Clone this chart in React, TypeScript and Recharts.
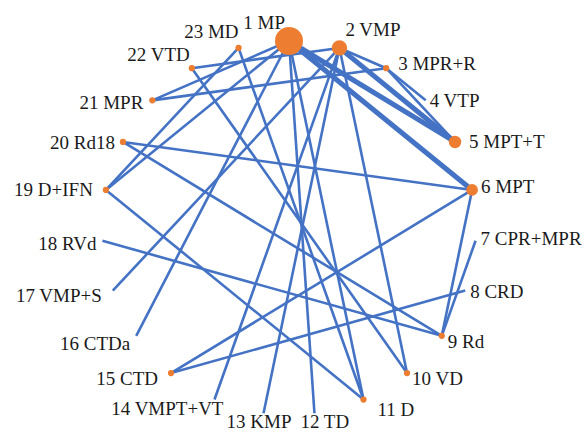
import React from 'react';
import { ScatterChart, Scatter, XAxis, YAxis, ZAxis } from 'recharts';

// Treatments (network nodes), in circular order starting at the top
const treatments = [
  '1 MP', '2 VMP', '3 MPR+R', '4 VTP', '5 MPT+T', '6 MPT', '7 CPR+MPR', '8 CRD',
  '9 Rd', '10 VD', '11 D', '12 TD', '13 KMP', '14 VMPT+VT', '15 CTD', '16 CTDa',
  '17 VMP+S', '18 RVd', '19 D+IFN', '20 Rd18', '21 MPR', '22 VTD', '23 MD',
];
// Relative node weight (dot area)
const nodeWeight = [20, 6, 1, 0, 4, 3.5, 0, 0, 1, 1, 1, 0, 0, 0, 1, 0, 0, 0, 1, 1, 1, 1, 1];

// Direct comparisons (1-based treatment numbers)
const thinEdges: [number, number][] = [
  [1, 21], [1, 19], [1, 16], [1, 12], [1, 11],
  [2, 3], [3, 4], [3, 5], [2, 17], [2, 14], [2, 13], [2, 10], [2, 22],
  [21, 3], [19, 23], [19, 11], [20, 6], [20, 9], [18, 9],
  [15, 6], [15, 8], [6, 9], [7, 9], [22, 10], [23, 11],
];
const thickEdges: [number, number][] = [[1, 5], [1, 6], [2, 5]];

// Label placement (layout only)
const labelPlace: { a: 'start' | 'end' | 'middle'; dx: number; dy: number }[] = [
  { a: 'end', dx: -4, dy: -19 },
  { a: 'start', dx: 6, dy: -18 },
  { a: 'start', dx: 12, dy: -5 },
  { a: 'start', dx: 4, dy: 0 },
  { a: 'start', dx: 14, dy: 0 },
  { a: 'start', dx: 9, dy: -3 },
  { a: 'start', dx: 5, dy: -2 },
  { a: 'start', dx: 5, dy: 1 },
  { a: 'start', dx: 6, dy: 6 },
  { a: 'start', dx: 5, dy: 5 },
  { a: 'start', dx: 14, dy: 10 },
  { a: 'start', dx: -14, dy: 8 },
  { a: 'start', dx: -37, dy: 8 },
  { a: 'end', dx: 9, dy: 9 },
  { a: 'end', dx: -13, dy: 5 },
  { a: 'end', dx: -6, dy: 8 },
  { a: 'end', dx: -11, dy: 5 },
  { a: 'end', dx: -6, dy: 3 },
  { a: 'end', dx: -13, dy: 0 },
  { a: 'end', dx: -8, dy: 1 },
  { a: 'end', dx: -9, dy: 2 },
  { a: 'end', dx: -2, dy: -14 },
  { a: 'end', dx: 0, dy: -16 },
];

const N = treatments.length;
// circular network layout on unit circle
const nodes = treatments.map((name, i) => {
  const t = (i * 2 * Math.PI) / N;
  return { name, idx: i, x: Math.sin(t), y: Math.cos(t), n: nodeWeight[i] };
});

const W = 587;
const H = 432;
const R = 187;
const CX = 289;
const CY = 228;
const xDomain: [number, number] = [-CX / R, (W - CX) / R];
const yDomain: [number, number] = [-(H - CY) / R, CY / R];

const BLUE = '#4472C4';
const ORANGE = '#ED7D31';
const FONT = 'Liberation Serif';

const NoShape = () => <g />;

const NodeShape = (props: any) => {
  const { cx, cy, payload, size } = props;
  const lp = labelPlace[payload.idx];
  const r = Math.sqrt((size || 0) / Math.PI);
  return (
    <g>
      {r > 0.5 && <circle cx={cx} cy={cy} r={r} fill={ORANGE} />}
      <text
        x={cx + lp.dx}
        y={cy + lp.dy}
        textAnchor={lp.a}
        dominantBaseline="central"
        fontFamily={FONT}
        fontSize={19}
        fill="#1a1a1a"
      >
        {payload.name}
      </text>
    </g>
  );
};

export default function App() {
  return (
    <div style={{ position: 'absolute', left: 0, top: 0, background: '#fff', fontFamily: FONT }}>
      <ScatterChart width={W} height={H} margin={{ top: 0, right: 0, bottom: 0, left: 0 }}>
        <XAxis type="number" dataKey="x" domain={xDomain} hide allowDataOverflow />
        <YAxis type="number" dataKey="y" domain={yDomain} hide allowDataOverflow />
        <ZAxis type="number" dataKey="n" domain={[0, 20]} range={[0, 615]} />
        {thinEdges.map(([a, b], i) => (
          <Scatter
            key={`t${i}`}
            data={[nodes[a - 1], nodes[b - 1]]}
            line={{ stroke: BLUE, strokeWidth: 2.6 }}
            shape={NoShape}
            isAnimationActive={false}
          />
        ))}
        {thickEdges.map(([a, b], i) => (
          <Scatter
            key={`k${i}`}
            data={[nodes[a - 1], nodes[b - 1]]}
            line={{ stroke: BLUE, strokeWidth: 5 }}
            shape={NoShape}
            isAnimationActive={false}
          />
        ))}
        <Scatter data={nodes} shape={NodeShape} isAnimationActive={false} />
      </ScatterChart>
    </div>
  );
}
